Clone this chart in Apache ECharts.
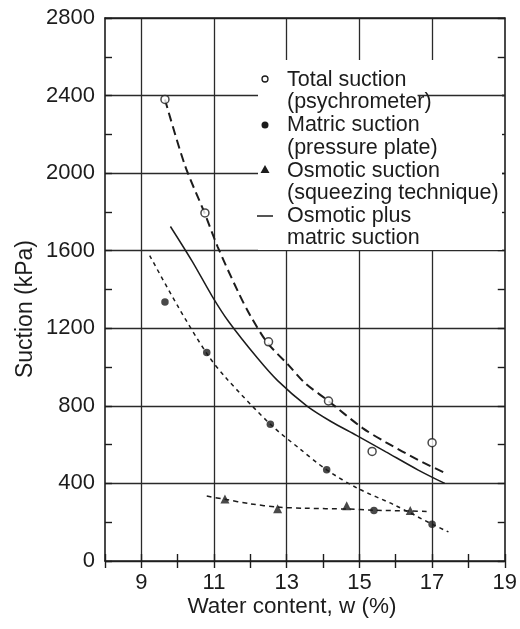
<!DOCTYPE html>
<html>
<head>
<meta charset="utf-8">
<title>Suction vs water content</title>
<script src="https://cdn.jsdelivr.net/npm/echarts@6/dist/echarts.min.js"></script>
<style>
html, body { margin: 0; padding: 0; background: #fff; }
#main { width: 520px; height: 629px; }
</style>
</head>
<body>
<div id="main"></div>
<script type="text/javascript">
// measured points (water content %, suction kPa)
var totalX = [9.65, 10.75, 12.5, 14.15, 15.35, 17.0];
var totalY = [2380, 1795, 1130, 825, 565, 610];
var matricX = [9.65, 10.8, 12.55, 14.1, 15.4, 17.0];
var matricY = [1335, 1075, 705, 470, 260, 190];
var osmoticX = [11.3, 12.75, 14.65, 16.4];
var osmoticY = [320, 270, 285, 260];

// curves
var totalCurveX = [9.65, 10.2, 10.75, 11.1, 11.67, 12.0, 12.47, 13.05, 13.5, 14.1, 15.1, 15.73, 16.62, 17.43];
var totalCurveY = [2380, 2040, 1790, 1620, 1385, 1265, 1125, 1010, 918, 832, 684, 612, 521, 447];
var sumCurveX = [9.8, 10.4, 10.95, 11.4, 12.2, 12.75, 13.55, 14.23, 14.92, 15.73, 16.62, 17.35];
var sumCurveY = [1725, 1545, 1365, 1235, 1045, 930, 800, 718, 648, 563, 469, 400];
var matricCurveX = [9.23, 10.0, 10.8, 11.32, 12.55, 13.35, 14.1, 14.95, 15.95, 17.0, 17.45];
var matricCurveY = [1575, 1315, 1070, 946, 705, 580, 470, 375, 290, 190, 150];
var osmoticCurveX = [10.8, 11.3, 12.0, 12.75, 13.5, 14.65, 15.4, 16.4, 16.85];
var osmoticCurveY = [335, 318, 295, 278, 272, 268, 262, 258, 255];

// axes
var xLabels = [9, 11, 13, 15, 17, 19];
var xGrid = [9, 11, 13, 15, 17];
// bit of the 2400 grid line that shows right of the legend
var peekLineX = [16.6, 19];
var peekLineY = 2400;

var legendLines = [
    ['Total suction', '(psychrometer)'],
    ['Matric suction', '(pressure plate)'],
    ['Osmotic suction', '(squeezing technique)'],
    ['Osmotic plus', 'matric suction']
];

function pairs(xs, ys) {
    return xs.map(function (x, i) { return [x, ys[i]]; });
}

var ink = '#1c1c1c';
var font = 'Liberation Sans, Arial, sans-serif';

function legendGraphic() {
    var els = [{
        type: 'rect', z: 1, silent: true,
        shape: { x: 258, y: 60, width: 244, height: 190 },
        style: { fill: '#fff' }
    }];
    var top = 80;
    for (var i = 0; i < legendLines.length; i++) {
        var y = top + i * 45.3;
        els.push({ type: 'text', z: 10, x: 287, y: y,
            style: { text: legendLines[i][0], font: '21.5px ' + font, fill: ink, verticalAlign: 'middle' } });
        els.push({ type: 'text', z: 10, x: 287, y: y + 22.5,
            style: { text: legendLines[i][1], font: '21.5px ' + font, fill: ink, verticalAlign: 'middle' } });
    }
    els.push({ type: 'circle', z: 10, shape: { cx: 265, cy: 79, r: 3 }, style: { fill: '#fff', stroke: ink, lineWidth: 1.3 } });
    els.push({ type: 'circle', z: 10, shape: { cx: 265, cy: 125, r: 3.5 }, style: { fill: ink } });
    els.push({ type: 'polygon', z: 10, shape: { points: [[265, 165], [269.5, 173], [260.5, 173]] }, style: { fill: ink } });
    els.push({ type: 'line', z: 10, shape: { x1: 257, y1: 216, x2: 273, y2: 216 }, style: { stroke: ink, lineWidth: 1.5 } });
    // axis titles
    els.push({ type: 'text', z: 10, x: 292, y: 607,
        style: { text: 'Water content, w (%)', font: '22.5px ' + font, fill: ink, align: 'center', verticalAlign: 'middle' } });
    els.push({ type: 'text', z: 10, x: 26, y: 309, rotation: Math.PI / 2,
        style: { text: 'Suction (kPa)', font: '23px ' + font, fill: ink, align: 'center', verticalAlign: 'middle' } });
    return els;
}

var myChart = echarts.init(document.getElementById('main'));
var axisLine = { show: true, onZero: false, lineStyle: { color: ink, width: 1.6 } };
var gridLine = { show: true, lineStyle: { color: '#2a2a2a', width: 1.3 } };
var tickIn = { show: true, inside: true, length: 7, lineStyle: { color: ink, width: 1.4 } };
var hidden = { show: false };

// plain axes that only carry inward ticks
function tickX(pos) {
    return { type: 'value', min: 8, max: 19, interval: 1, position: pos,
        axisLine: hidden, axisLabel: hidden, axisTick: tickIn, splitLine: hidden };
}
function tickY(pos) {
    return { type: 'value', min: 0, max: 2800, interval: 200, position: pos,
        axisLine: hidden, axisLabel: hidden, axisTick: tickIn, splitLine: hidden };
}

var option = {
    backgroundColor: '#fff',
    animation: false,
    grid: { left: 105, top: 18, width: 403, height: 543 },
    xAxis: [{
        type: 'value', min: 8, max: 19, position: 'bottom',
        axisLine: axisLine,
        axisTick: { show: false, customValues: xGrid },
        axisLabel: { customValues: xLabels, margin: 11, color: ink, fontSize: 22, fontFamily: font },
        splitLine: gridLine
    }, {
        type: 'value', min: 8, max: 19, position: 'top',
        axisLine: axisLine, axisLabel: hidden, axisTick: hidden, splitLine: hidden
    }, tickX('bottom'), tickX('top')],
    yAxis: [{
        type: 'value', min: 0, max: 2800, interval: 400, position: 'left',
        axisLine: axisLine,
        axisTick: hidden,
        axisLabel: { margin: 10, color: ink, fontSize: 22, fontFamily: font,
            formatter: function (v) { return String(v); } },
        splitLine: gridLine
    }, {
        type: 'value', min: 0, max: 2800, interval: 400, position: 'right',
        axisLine: axisLine, axisLabel: hidden, axisTick: hidden, splitLine: hidden
    }, tickY('left'), tickY('right')],
    graphic: { elements: legendGraphic() },
    series: [{
        name: 'Total suction curve', type: 'line', data: pairs(totalCurveX, totalCurveY),
        smooth: 0.3, showSymbol: false, silent: true,
        lineStyle: { color: ink, width: 2, type: [9, 5] },
        markLine: {
            symbol: 'none', silent: true, label: hidden,
            lineStyle: { type: 'solid', color: '#2a2a2a', width: 1.3 },
            data: [[{ coord: [peekLineX[0], peekLineY] }, { coord: [peekLineX[1], peekLineY] }]]
        }
    }, {
        name: 'Osmotic plus matric suction', type: 'line', data: pairs(sumCurveX, sumCurveY),
        smooth: 0.3, showSymbol: false, silent: true,
        lineStyle: { color: ink, width: 1.5 }
    }, {
        name: 'Matric suction curve', type: 'line', data: pairs(matricCurveX, matricCurveY),
        smooth: 0.3, showSymbol: false, silent: true,
        lineStyle: { color: ink, width: 1.5, type: [4, 4] }
    }, {
        name: 'Osmotic suction curve', type: 'line', data: pairs(osmoticCurveX, osmoticCurveY),
        smooth: 0.3, showSymbol: false, silent: true,
        lineStyle: { color: ink, width: 1.5, type: [5, 4] }
    }, {
        name: 'Total suction (psychrometer)', type: 'scatter', data: pairs(totalX, totalY),
        symbol: 'circle', symbolSize: 8, z: 4,
        itemStyle: { color: '#fff', borderColor: ink, borderWidth: 1.5 }
    }, {
        name: 'Matric suction (pressure plate)', type: 'scatter', data: pairs(matricX, matricY),
        symbol: 'circle', symbolSize: 7.5, z: 4,
        itemStyle: { color: ink }
    }, {
        name: 'Osmotic suction (squeezing technique)', type: 'scatter', data: pairs(osmoticX, osmoticY),
        symbol: 'triangle', symbolSize: 9, z: 4,
        itemStyle: { color: ink }
    }]
};

myChart.setOption(option);
</script>
</body>
</html>
